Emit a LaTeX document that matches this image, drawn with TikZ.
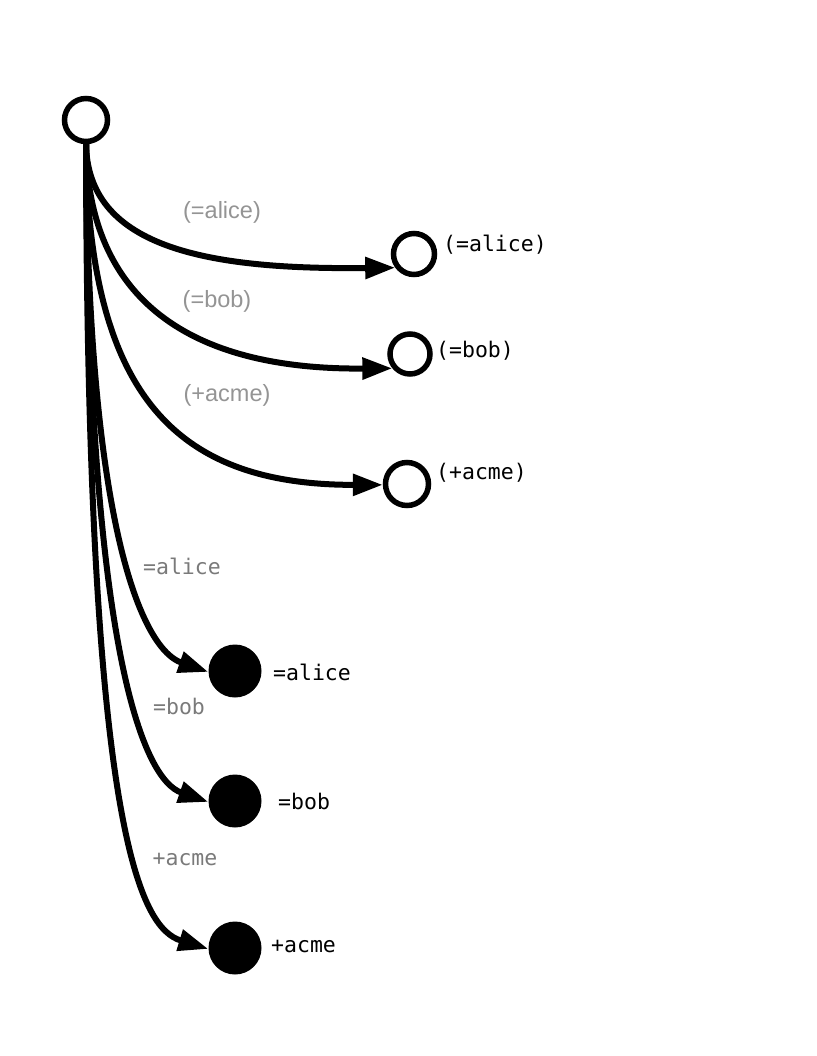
\documentclass[tikz,border=0pt]{standalone}
\usepackage{fontspec}
\setmainfont{Liberation Sans}
\setmonofont{DejaVu Sans Mono}
\usetikzlibrary{arrows.meta}
\begin{document}
\begin{tikzpicture}[x=1pt,y=-1pt,
  open/.style={circle,draw,line width=5.5pt,inner sep=0pt,minimum size=#1},
  solid/.style={circle,fill=black,inner sep=0pt,minimum size=#1},
  link/.style={line width=6pt,-{Triangle[length=30pt,width=21pt]}},
  elabel/.style={text=black!42,font=\fontsize{23.5}{26}\selectfont},
  mlabel/.style={text=black!52,font=\fontsize{21.5}{24}\ttfamily},
  nlabel/.style={anchor=west,inner sep=0pt,font=\fontsize{21.5}{24}\ttfamily}]
  \useasboundingbox (0,0) rectangle (816,1056);

  % root and the six targets
  \node[open=43pt] (root) at (86,120) {};
  \node[open=41pt] (pa) at (414,254) {};
  \node[open=40pt] (pb) at (410,354) {};
  \node[open=43pt] (pc) at (407,484) {};
  \node[solid=53pt] (da) at (235,671) {};
  \node[solid=53pt] (db) at (235,801) {};
  \node[solid=53pt] (dc) at (235,948) {};

  % names beside the targets
  \node[nlabel] (la) at (443,245) {(=alice)};
  \node[nlabel] (lb) at (436,351) {(=bob)};
  \node[nlabel] (lc) at (436,473) {(+acme)};
  \node[nlabel] (ld) at (273,672) {=alice};
  \node[nlabel] (le) at (278,801) {=bob};
  \node[nlabel] (lf) at (271,946) {+acme};

  % connectors
  \draw[link] (root.south) .. controls (88,245) and (200,270) .. (pa.216);
  \draw[link] (root.south) .. controls (88,300) and (190,370) .. (pb.219);
  \draw[link] (root.south) .. controls (88,400) and (180,485) .. (pc.182);
  \draw[link] (root.south) .. controls (88,540) and (145,650) .. (da.182);
  \draw[link] (root.south) .. controls (88,660) and (145,780) .. (db.182);
  \draw[link] (root.south) .. controls (87,830) and (140,928) .. (dc.182);

  % connector labels
  \node[elabel] (ea) at (222,212) {(=alice)};
  \node[elabel] (eb) at (217,301) {(=bob)};
  \node[elabel] (ec) at (227,395) {(+acme)};
  \node[mlabel] (ed) at (182,566) {=alice};
  \node[mlabel] (ee) at (179,706) {=bob};
  \node[mlabel] (ef) at (185,859) {+acme};
\end{tikzpicture}
\end{document}
